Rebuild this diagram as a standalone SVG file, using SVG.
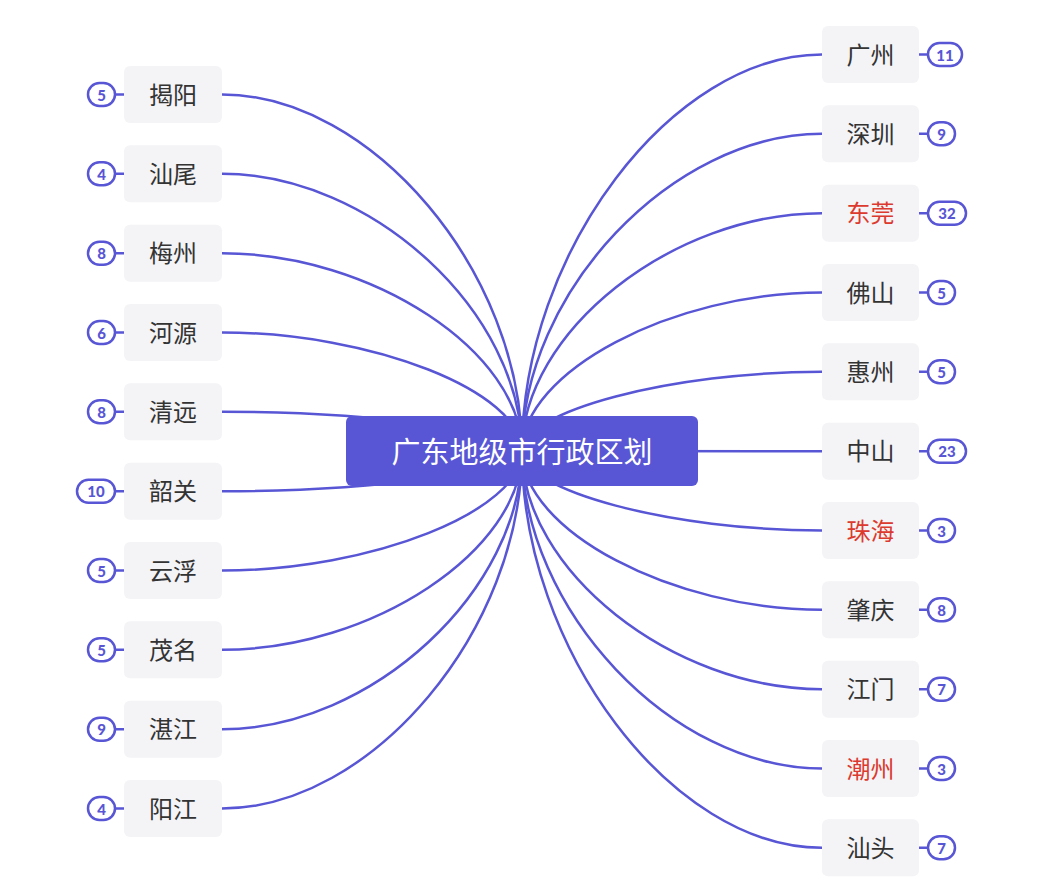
<svg xmlns="http://www.w3.org/2000/svg" width="1055" height="893" viewBox="0 0 1055 893">
<style>
.ln{fill:none;stroke:#5856d5;stroke-width:2.5;stroke-linecap:round}
.nd{fill:#f4f4f7}
.tx{font-family:"Noto Sans CJK SC","Noto Sans",sans-serif;font-size:24px;fill:#333;text-anchor:middle;dominant-baseline:central;transform:translateY(-1.5px)}
.red{fill:#dc3a2e}
.bg{fill:#fff;stroke:#5856d5;stroke-width:2.5}
.bt{font-family:Lato,"Open Sans",sans-serif;font-weight:900;font-size:15px;fill:#5856d5;text-anchor:middle;dominant-baseline:central}
.rt{fill:#5856d5}
.rtx{font-family:"Noto Sans CJK SC","Noto Sans",sans-serif;font-size:29px;fill:#fff;text-anchor:middle;dominant-baseline:central;transform:translateY(-1.5px)}
</style>
<rect width="1055" height="893" fill="#fff"/>
<g id="connectors">
<path class="ln" d="M522 451 C522 272.75 372 94.5 222 94.5"/>
<path class="ln" d="M522 451 C522 312.4 372 173.8 222 173.8"/>
<path class="ln" d="M522 451 C522 352.1 372 253.2 222 253.2"/>
<path class="ln" d="M522 451 C522 391.75 372 332.5 222 332.5"/>
<path class="ln" d="M522 451 C522 431.4 372 411.8 222 411.8"/>
<path class="ln" d="M522 451 C522 471.1 372 491.2 222 491.2"/>
<path class="ln" d="M522 451 C522 510.75 372 570.5 222 570.5"/>
<path class="ln" d="M522 451 C522 550.4 372 649.8 222 649.8"/>
<path class="ln" d="M522 451 C522 590.1 372 729.2 222 729.2"/>
<path class="ln" d="M522 451 C522 629.75 372 808.5 222 808.5"/>
<path class="ln" d="M522 451 C522 252.75 672 54.5 822 54.5"/>
<path class="ln" d="M522 451 C522 292.4 672 133.8 822 133.8"/>
<path class="ln" d="M522 451 C522 332.1 672 213.2 822 213.2"/>
<path class="ln" d="M522 451 C522 371.75 672 292.5 822 292.5"/>
<path class="ln" d="M522 451 C522 411.4 672 371.8 822 371.8"/>
<path class="ln" d="M522 451 C522 451.1 672 451.2 822 451.2"/>
<path class="ln" d="M522 451 C522 490.75 672 530.5 822 530.5"/>
<path class="ln" d="M522 451 C522 530.4 672 609.8 822 609.8"/>
<path class="ln" d="M522 451 C522 570.1 672 689.2 822 689.2"/>
<path class="ln" d="M522 451 C522 609.75 672 768.5 822 768.5"/>
<path class="ln" d="M522 451 C522 649.4 672 847.8 822 847.8"/>
<path class="ln" d="M115 94.5H124M115 173.8H124M115 253.2H124M115 332.5H124M115 411.8H124M115 491.2H124M115 570.5H124M115 649.8H124M115 729.2H124M115 808.5H124"/>
<path class="ln" d="M919 54.5H928M919 133.8H928M919 213.2H928M919 292.5H928M919 371.8H928M919 451.2H928M919 530.5H928M919 609.8H928M919 689.2H928M919 768.5H928M919 847.8H928"/>
</g>
<g id="root">
<rect class="rt" x="346" y="416" width="352" height="70" rx="6"/>
<text class="rtx" x="522" y="451">广东地级市行政区划</text>
</g>
<g id="n-jieyang"><rect class="nd" x="124" y="66" width="98" height="57" rx="6"/><text class="tx" x="173" y="94.5">揭阳</text><rect class="bg" x="88" y="83" width="27" height="23" rx="11.5"/><text class="bt" x="101.5" y="94.5">5</text></g>
<g id="n-shanwei"><rect class="nd" x="124" y="145.3" width="98" height="57" rx="6"/><text class="tx" x="173" y="173.8">汕尾</text><rect class="bg" x="88" y="162.3" width="27" height="23" rx="11.5"/><text class="bt" x="101.5" y="173.8">4</text></g>
<g id="n-meizhou"><rect class="nd" x="124" y="224.7" width="98" height="57" rx="6"/><text class="tx" x="173" y="253.2">梅州</text><rect class="bg" x="88" y="241.7" width="27" height="23" rx="11.5"/><text class="bt" x="101.5" y="253.2">8</text></g>
<g id="n-heyuan"><rect class="nd" x="124" y="304" width="98" height="57" rx="6"/><text class="tx" x="173" y="332.5">河源</text><rect class="bg" x="88" y="321" width="27" height="23" rx="11.5"/><text class="bt" x="101.5" y="332.5">6</text></g>
<g id="n-qingyuan"><rect class="nd" x="124" y="383.3" width="98" height="57" rx="6"/><text class="tx" x="173" y="411.8">清远</text><rect class="bg" x="88" y="400.3" width="27" height="23" rx="11.5"/><text class="bt" x="101.5" y="411.8">8</text></g>
<g id="n-shaoguan"><rect class="nd" x="124" y="462.7" width="98" height="57" rx="6"/><text class="tx" x="173" y="491.2">韶关</text><rect class="bg" x="77" y="479.7" width="38" height="23" rx="11.5"/><text class="bt" x="96" y="491.2">10</text></g>
<g id="n-yunfu"><rect class="nd" x="124" y="542" width="98" height="57" rx="6"/><text class="tx" x="173" y="570.5">云浮</text><rect class="bg" x="88" y="559" width="27" height="23" rx="11.5"/><text class="bt" x="101.5" y="570.5">5</text></g>
<g id="n-maoming"><rect class="nd" x="124" y="621.3" width="98" height="57" rx="6"/><text class="tx" x="173" y="649.8">茂名</text><rect class="bg" x="88" y="638.3" width="27" height="23" rx="11.5"/><text class="bt" x="101.5" y="649.8">5</text></g>
<g id="n-zhanjiang"><rect class="nd" x="124" y="700.7" width="98" height="57" rx="6"/><text class="tx" x="173" y="729.2">湛江</text><rect class="bg" x="88" y="717.7" width="27" height="23" rx="11.5"/><text class="bt" x="101.5" y="729.2">9</text></g>
<g id="n-yangjiang"><rect class="nd" x="124" y="780" width="98" height="57" rx="6"/><text class="tx" x="173" y="808.5">阳江</text><rect class="bg" x="88" y="797" width="27" height="23" rx="11.5"/><text class="bt" x="101.5" y="808.5">4</text></g>
<g id="n-guangzhou"><rect class="nd" x="822" y="26" width="97" height="57" rx="6"/><text class="tx" x="870.5" y="54.5">广州</text><rect class="bg" x="928" y="43" width="34" height="23" rx="11.5"/><text class="bt" x="945" y="54.5">11</text></g>
<g id="n-shenzhen"><rect class="nd" x="822" y="105.3" width="97" height="57" rx="6"/><text class="tx" x="870.5" y="133.8">深圳</text><rect class="bg" x="928" y="122.3" width="27" height="23" rx="11.5"/><text class="bt" x="941.5" y="133.8">9</text></g>
<g id="n-dongguan"><rect class="nd" x="822" y="184.7" width="97" height="57" rx="6"/><text class="tx red" x="870.5" y="213.2">东莞</text><rect class="bg" x="928" y="201.7" width="38" height="23" rx="11.5"/><text class="bt" x="947" y="213.2">32</text></g>
<g id="n-foshan"><rect class="nd" x="822" y="264" width="97" height="57" rx="6"/><text class="tx" x="870.5" y="292.5">佛山</text><rect class="bg" x="928" y="281" width="27" height="23" rx="11.5"/><text class="bt" x="941.5" y="292.5">5</text></g>
<g id="n-huizhou"><rect class="nd" x="822" y="343.3" width="97" height="57" rx="6"/><text class="tx" x="870.5" y="371.8">惠州</text><rect class="bg" x="928" y="360.3" width="27" height="23" rx="11.5"/><text class="bt" x="941.5" y="371.8">5</text></g>
<g id="n-zhongshan"><rect class="nd" x="822" y="422.7" width="97" height="57" rx="6"/><text class="tx" x="870.5" y="451.2">中山</text><rect class="bg" x="928" y="439.7" width="38" height="23" rx="11.5"/><text class="bt" x="947" y="451.2">23</text></g>
<g id="n-zhuhai"><rect class="nd" x="822" y="502" width="97" height="57" rx="6"/><text class="tx red" x="870.5" y="530.5">珠海</text><rect class="bg" x="928" y="519" width="27" height="23" rx="11.5"/><text class="bt" x="941.5" y="530.5">3</text></g>
<g id="n-zhaoqing"><rect class="nd" x="822" y="581.3" width="97" height="57" rx="6"/><text class="tx" x="870.5" y="609.8">肇庆</text><rect class="bg" x="928" y="598.3" width="27" height="23" rx="11.5"/><text class="bt" x="941.5" y="609.8">8</text></g>
<g id="n-jiangmen"><rect class="nd" x="822" y="660.7" width="97" height="57" rx="6"/><text class="tx" x="870.5" y="689.2">江门</text><rect class="bg" x="928" y="677.7" width="27" height="23" rx="11.5"/><text class="bt" x="941.5" y="689.2">7</text></g>
<g id="n-chaozhou"><rect class="nd" x="822" y="740" width="97" height="57" rx="6"/><text class="tx red" x="870.5" y="768.5">潮州</text><rect class="bg" x="928" y="757" width="27" height="23" rx="11.5"/><text class="bt" x="941.5" y="768.5">3</text></g>
<g id="n-shantou"><rect class="nd" x="822" y="819.3" width="97" height="57" rx="6"/><text class="tx" x="870.5" y="847.8">汕头</text><rect class="bg" x="928" y="836.3" width="27" height="23" rx="11.5"/><text class="bt" x="941.5" y="847.8">7</text></g>
</svg>
